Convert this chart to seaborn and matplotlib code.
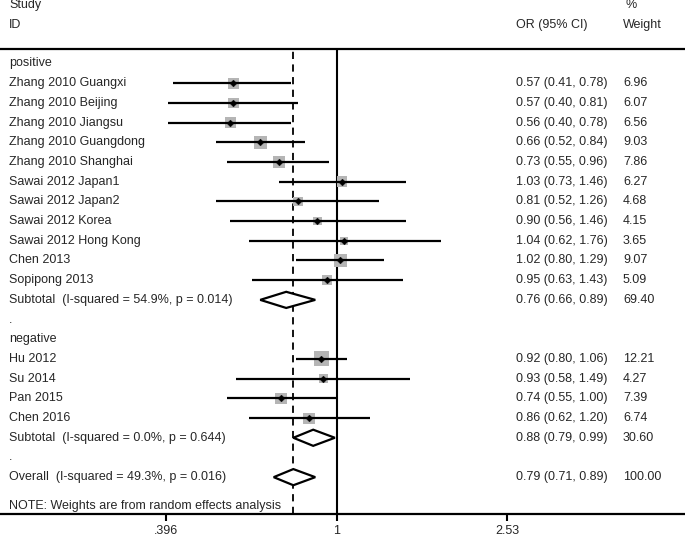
import numpy as np
import pandas as pd
import seaborn as sns
import matplotlib.pyplot as plt

# study rows
studies = ["Zhang 2010 Guangxi", "Zhang 2010 Beijing", "Zhang 2010 Jiangsu",
           "Zhang 2010 Guangdong", "Zhang 2010 Shanghai", "Sawai 2012 Japan1",
           "Sawai 2012 Japan2", "Sawai 2012 Korea", "Sawai 2012 Hong Kong",
           "Chen 2013", "Sopipong 2013",
           "Hu 2012", "Su 2014", "Pan 2015", "Chen 2016"]
study_rows = [1, 2, 3, 4, 5, 6, 7, 8, 9, 10, 11, 15, 16, 17, 18]
or_est = [0.57, 0.57, 0.56, 0.66, 0.73, 1.03, 0.81, 0.90, 1.04, 1.02, 0.95,
          0.92, 0.93, 0.74, 0.86]
ci_low = [0.41, 0.40, 0.40, 0.52, 0.55, 0.73, 0.52, 0.56, 0.62, 0.80, 0.63,
          0.80, 0.58, 0.55, 0.62]
ci_high = [0.78, 0.81, 0.78, 0.84, 0.96, 1.46, 1.26, 1.46, 1.76, 1.29, 1.43,
           1.06, 1.49, 1.00, 1.20]
weights = [6.96, 6.07, 6.56, 9.03, 7.86, 6.27, 4.68, 4.15, 3.65, 9.07, 5.09,
           12.21, 4.27, 7.39, 6.74]

# pooled rows
pooled_labels = ["Subtotal  (I-squared = 54.9%, p = 0.014)",
                 "Subtotal  (I-squared = 0.0%, p = 0.644)",
                 "Overall  (I-squared = 49.3%, p = 0.016)"]
pooled_rows = [12, 19, 21]
pooled_or = [0.76, 0.88, 0.79]
pooled_low = [0.66, 0.79, 0.71]
pooled_high = [0.89, 0.99, 0.89]
pooled_w = [69.40, 30.60, 100.00]

# other label rows
group_labels = ["positive", ".", "negative", "."]
group_rows = [0, 13, 14, 20]

ticks = [0.396, 1, 2.53]
tick_labels = [".396", "1", "2.53"]

df = pd.DataFrame({"row": study_rows, "OR": or_est, "lo": ci_low,
                   "hi": ci_high, "w": weights})

sns.set_theme(style="white")
plt.rcParams['font.family'] = ['Liberation Sans', 'DejaVu Sans']
fs = 9

fig = plt.figure(figsize=(6.85, 5.4), dpi=100)
ax = fig.add_axes([0, 26 / 540, 1, 465 / 540])
ax.set_xscale("log")
ax.set_xlim(0.1604, 6.64)
ax.set_ylim(22.87, -0.736)

# reference lines
ax.axvline(1, color="black", lw=1.5, zorder=1)
ax.axvline(pooled_or[-1], color="black", lw=1.3, ls=(0, (4, 3)), zorder=1)

# weight squares (area ~ weight)
sns.scatterplot(data=df, x="OR", y="row", marker="s", s=df["w"] * 9.5,
                color="#b5b5b5", edgecolor="none", ax=ax, zorder=2, legend=False)
# CI lines
ax.hlines(df["row"], df["lo"], df["hi"], color="black", lw=1.6, zorder=3)
# point estimates
sns.scatterplot(data=df, x="OR", y="row", marker="D", s=12, color="black",
                edgecolor="black", ax=ax, zorder=4, legend=False)

# pooled diamonds
for r, m, lo, hi in zip(pooled_rows, pooled_or, pooled_low, pooled_high):
    ax.fill([lo, m, hi, m, lo], [r, r - 0.41, r, r + 0.41, r],
            facecolor="white", edgecolor="black", lw=1.6, zorder=5)

# text columns
tx = ax.get_yaxis_transform()
for lab, r in zip(studies, study_rows):
    ax.text(9 / 685, r, lab, transform=tx, va="center", fontsize=fs)
for lab, r in zip(pooled_labels, pooled_rows):
    ax.text(9 / 685, r, lab, transform=tx, va="center", fontsize=fs)
for lab, r in zip(group_labels, group_rows):
    ax.text(9 / 685, r, lab, transform=tx, va="center", fontsize=fs)
ax.text(9 / 685, 22.46, "NOTE: Weights are from random effects analysis",
        transform=tx, va="center", fontsize=fs)

for r, m, lo, hi, w in zip(study_rows + pooled_rows, or_est + pooled_or,
                           ci_low + pooled_low, ci_high + pooled_high,
                           weights + pooled_w):
    ax.text(516 / 685, r, f"{m:.2f} ({lo:.2f}, {hi:.2f})", transform=tx,
            va="center", fontsize=fs)
    ax.text(623 / 685, r, f"{w:.2f}", transform=tx, va="center", fontsize=fs)

# header
fig.text(9 / 685, 1 - 5 / 540, "Study", va="center", fontsize=fs)
fig.text(9 / 685, 1 - 25 / 540, "ID", va="center", fontsize=fs)
fig.text(516 / 685, 1 - 25 / 540, "OR (95% CI)", va="center", fontsize=fs)
fig.text(625 / 685, 1 - 5 / 540, "%", va="center", fontsize=fs)
fig.text(623 / 685, 1 - 25 / 540, "Weight", va="center", fontsize=fs)

# axis styling
for side in ["left", "right"]:
    ax.spines[side].set_visible(False)
for side in ["top", "bottom"]:
    ax.spines[side].set_linewidth(1.6)
    ax.spines[side].set_color("black")
ax.set_yticks([])
ax.set_xticks(ticks)
ax.set_xticklabels(tick_labels)
ax.xaxis.set_minor_locator(plt.NullLocator())
ax.tick_params(axis="x", which="major", bottom=True, length=5, width=1.5,
               pad=3, labelsize=fs, color="black")
ax.set_xlabel("")
ax.set_ylabel("")

fig.savefig("out.png", dpi=100)
